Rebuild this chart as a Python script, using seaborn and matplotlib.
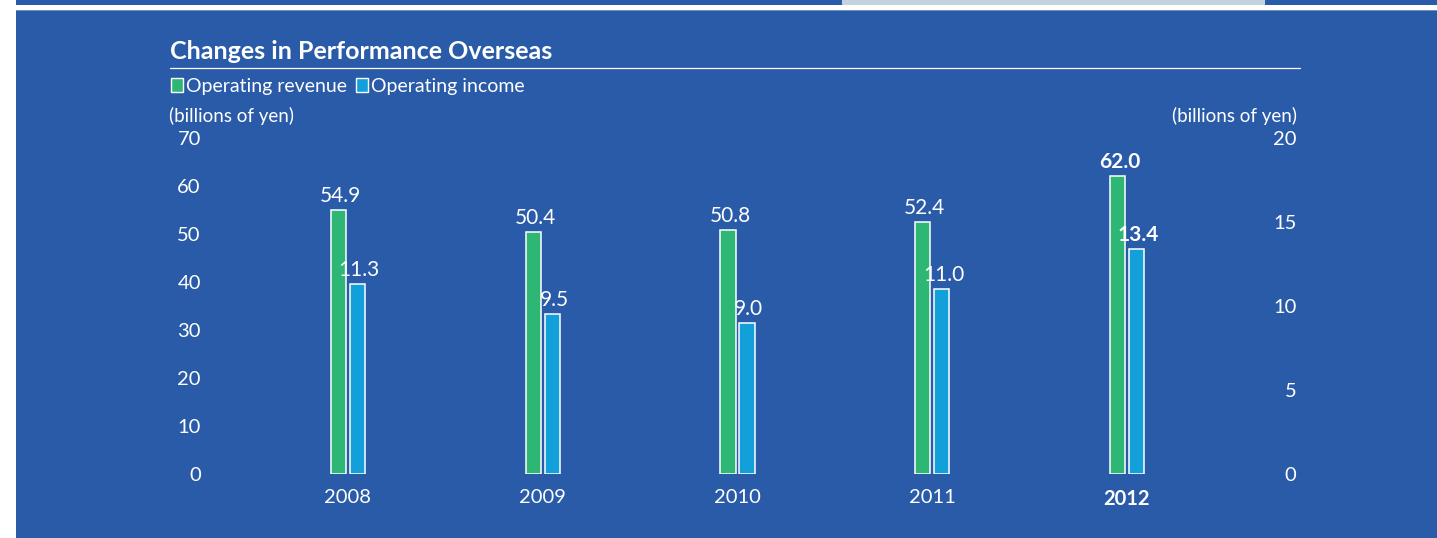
import matplotlib
matplotlib.use("Agg")
import matplotlib.pyplot as plt
import seaborn as sns
import pandas as pd
import numpy as np
from matplotlib.patches import Rectangle

years = ["2008", "2009", "2010", "2011", "2012"]
revenue = [54.9, 50.4, 50.8, 52.4, 62.0]
income = [11.3, 9.5, 9.0, 11.0, 13.4]
series_names = ["Operating revenue", "Operating income"]
left_ticks = [0, 10, 20, 30, 40, 50, 60, 70]
right_ticks = [0, 5, 10, 15, 20]

BG = "#2A5BA8"
GREEN = "#2DB674"
BLUE = "#139FDA"
W, H = 1437, 538

sns.set_theme(style="white")
plt.rcParams["font.family"] = ["Lato", "DejaVu Sans"]

fig = plt.figure(figsize=(W / 100, H / 100), dpi=100, facecolor="white")

def fx(px):
    return px / W

def fy(py):
    return 1 - py / H

# background decorations
fig.patches.append(Rectangle((fx(16), 0), 1 - fx(16), fy(10), transform=fig.transFigure,
                             facecolor=BG, edgecolor="none", zorder=-10))
fig.patches.append(Rectangle((fx(16), fy(4.5)), 1 - fx(16), 4.5 / H, transform=fig.transFigure,
                             facecolor=BG, edgecolor="none", zorder=-10))
fig.patches.append(Rectangle((fx(842), fy(4.5)), fx(1265 - 842), 4.5 / H, transform=fig.transFigure,
                             facecolor="#C4D2DE", edgecolor="none", zorder=-9))
fig.patches.append(Rectangle((fx(16), fy(11)), 1 - fx(16), 1.2 / H, transform=fig.transFigure,
                             facecolor="#6F8FC4", edgecolor="none", zorder=-9))

# axes placement
ax_l, ax_r = 205, 1265
ax_top, ax_bot = 138, 474
ax = fig.add_axes([fx(ax_l), fy(ax_bot), fx(ax_r - ax_l), (ax_bot - ax_top) / H])
ax.set_facecolor("none")
ax2 = ax.twinx()

df = pd.DataFrame({
    "year": years * 2,
    "series": [series_names[0]] * 5 + [series_names[1]] * 5,
    "rev": revenue + [np.nan] * 5,
    "inc": [np.nan] * 5 + income,
})

common = dict(x="year", hue="series", hue_order=series_names, order=years,
              palette=[GREEN, BLUE], saturation=1, dodge=True, width=0.195, gap=0.2,
              edgecolor="white", linewidth=1.1, legend=False, errorbar=None)
sns.barplot(data=df, y="rev", ax=ax, **common)
sns.barplot(data=df, y="inc", ax=ax2, **common)

ax.set_ylim(0, 70)
ax2.set_ylim(0, 20)
ax.set_xlim(-0.734, 4.709)

for a in (ax, ax2):
    for s in a.spines.values():
        s.set_visible(False)
    a.set_xlabel("")
    a.set_ylabel("")
    a.grid(False)

FS = 14.5
ax.set_yticks(left_ticks)
ax.set_yticklabels([str(t) for t in left_ticks], color="white", fontsize=FS)
ax.tick_params(axis="y", length=0, pad=3)
ax2.set_yticks(right_ticks)
ax2.set_yticklabels([str(t) for t in right_ticks], color="white", fontsize=FS, ha="right")
ax2.tick_params(axis="y", length=0, pad=22.5)

ax.set_xticks(range(len(years)))
ax.set_xticklabels(years, color="white", fontsize=FS)
ax.tick_params(axis="x", length=0, pad=11)
ax.get_xticklabels()[-1].set_fontweight("bold")

# bar value labels
for a, vals in ((ax, revenue), (ax2, income)):
    bars = [p for p in a.patches if np.isfinite(p.get_height()) and p.get_height() > 0]
    bars.sort(key=lambda p: p.get_x())
    for i, (p, v) in enumerate(zip(bars, vals)):
        bold = i == len(vals) - 1
        a.annotate(f"{v:.1f}", (p.get_x() + p.get_width() / 2 + 0.01, p.get_height()),
                   xytext=(0, 3), textcoords="offset points", ha="center", va="bottom",
                   color="white", fontsize=15, fontweight="bold" if bold else "normal")

# title, rule, legend, units
fig.text(fx(170), fy(51.5), "Changes in Performance Overseas", color="white",
         fontsize=18, fontweight="bold", va="center", ha="left")
fig.add_artist(plt.Line2D([fx(170), fx(1300)], [fy(67.5), fy(67.5)], color="white", lw=0.9))

fig.patches.append(Rectangle((fx(170.5), fy(91.5)), fx(13), 13 / H, transform=fig.transFigure,
                             facecolor=GREEN, edgecolor="white", lw=1.0))
fig.text(fx(186), fy(86.5), series_names[0], color="white", fontsize=14,
         va="center", ha="left")
fig.patches.append(Rectangle((fx(355.5), fy(91.5)), fx(13), 13 / H, transform=fig.transFigure,
                             facecolor=BLUE, edgecolor="white", lw=1.0))
fig.text(fx(371), fy(86.5), series_names[1], color="white", fontsize=14,
         va="center", ha="left")

fig.text(fx(169), fy(115.5), "(billions of yen)", color="white", fontsize=13.5,
         va="center", ha="left")
fig.text(fx(1297), fy(115.5), "(billions of yen)", color="white", fontsize=13.5,
         va="center", ha="right")

fig.savefig("out.png", dpi=100, facecolor="white")
